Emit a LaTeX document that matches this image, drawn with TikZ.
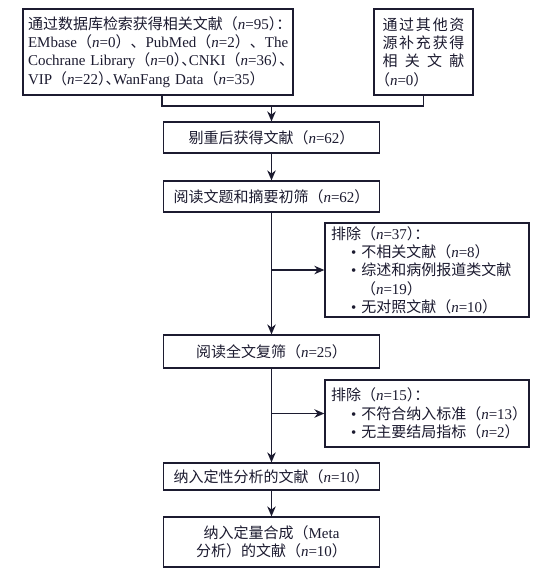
\documentclass[tikz,border=0pt]{standalone}
\usepackage{fontspec}
\setmainfont{Liberation Serif}
\newfontfamily\cjk{Noto Sans CJK SC}
\newfontfamily\cjkp[RawFeature=+halt]{Noto Sans CJK SC}
\usepackage{xcolor}
\usetikzlibrary{arrows.meta,positioning}
\definecolor{ink}{HTML}{1C1B30}
\newcommand{\zh}[1]{{\cjk #1}}
\newcommand{\zp}[1]{{\cjkp #1}}
\newcommand{\nn}[1]{\textit{n}=#1}
\tikzset{
  box/.style={draw=ink,line width=1.3pt,inner sep=0pt,text=ink,
    font=\fontsize{15}{18.3}\selectfont},
  link/.style={ink,line width=1.3pt}
}

\begin{document}
\begin{tikzpicture}[x=1pt,y=-1pt,>={Stealth[length=10pt,width=8.5pt]}]
\useasboundingbox[fill=white](0,0)rectangle(551,574);
% sources
\node[box,minimum width=270pt,minimum height=86pt,text width=260pt,align=left](db)at(158,52){%
\mbox{\zh{通过数据库检索获得相关文献（}\nn{95}\zp{）：}}\\
\mbox{EMbase\zh{（}\nn{0}\zh{）、}PubMed\zh{（}\nn{2}\zh{）、}The}\\
\mbox{Cochrane Library\zh{（}\nn{0}\zp{）、}CNKI\zh{（}\nn{36}\zp{）、}}\\
\mbox{VIP\zh{（}\nn{22}\zp{）、}WanFang Data\zh{（}\nn{35}\zh{）}}};
\node[box,minimum width=99pt,minimum height=86pt,text width=82pt,align=left](other)at(423.5,52){%
\makebox[82pt][s]{\cjk 通\hfil 过\hfil 其\hfil 他\hfil 资}\\
\makebox[82pt][s]{\cjk 源\hfil 补\hfil 充\hfil 获\hfil 得}\\
\makebox[82pt][s]{\cjk 相\hfil 关\hfil 文\hfil 献}\\
\zp{（}\nn{0}\zh{）}};
% main flow
\node[box,minimum width=216pt,minimum height=31pt](dedup)at(271.5,137.5){\zh{剔重后获得文献（}\nn{62}\zh{）}};
\node[box,minimum width=216pt,minimum height=31pt](screen)at(271.5,196.5){\zh{阅读文题和摘要初筛（}\nn{62}\zh{）}};
\node[box,minimum width=216pt,minimum height=33pt](full)at(271.5,351.5){\zh{阅读全文复筛（}\nn{25}\zh{）}};
\node[box,minimum width=216pt,minimum height=27pt](qual)at(271.5,476.5){\zh{纳入定性分析的文献（}\nn{10}\zh{）}};
\node[box,minimum width=216pt,minimum height=50pt,align=center](meta)at(271.5,542){%
\zh{纳入定量合成（}Meta\\\zh{分析）的文献（}\nn{10}\zh{）}};
% exclusions
\node[box,minimum width=204pt,minimum height=94pt,text width=192pt,align=left](excl1)at(427,270){%
\zh{排除（}\nn{37}\zp{）：}\\
\hspace*{20pt}\textbullet\hspace{5pt}\zh{不相关文献（}\nn{8}\zh{）}\\
\hspace*{20pt}\textbullet\hspace{5pt}\zh{综述和病例报道类文献}\\
\hspace*{30pt}\zh{（}\nn{19}\zh{）}\\
\hspace*{20pt}\textbullet\hspace{5pt}\zh{无对照文献（}\nn{10}\zh{）}};
\node[box,minimum width=204pt,minimum height=67pt,text width=192pt,align=left](excl2)at(427,413.5){%
\zh{排除（}\nn{15}\zp{）：}\\
\hspace*{20pt}\textbullet\hspace{5pt}\zh{不符合纳入标准（}\nn{13}\zp{）}\\
\hspace*{20pt}\textbullet\hspace{5pt}\zh{无主要结局指标（}\nn{2}\zp{）}};
% connectors
\coordinate(join)at(271.5,106);
\draw[link]([xshift=4pt]db.south)|-(join)-|(other.south);
\draw[link,->](join)--(dedup.north);
\draw[link,->](dedup)--(screen);
\draw[link,->](screen)--(full);
\draw[link,->](screen.south|-excl1.west)--(excl1.west);
\draw[link,->](full)--(qual);
\draw[link,->](full.south|-excl2.west)--(excl2.west);
\draw[link,->](qual)--(meta);
\end{tikzpicture}
\end{document}
